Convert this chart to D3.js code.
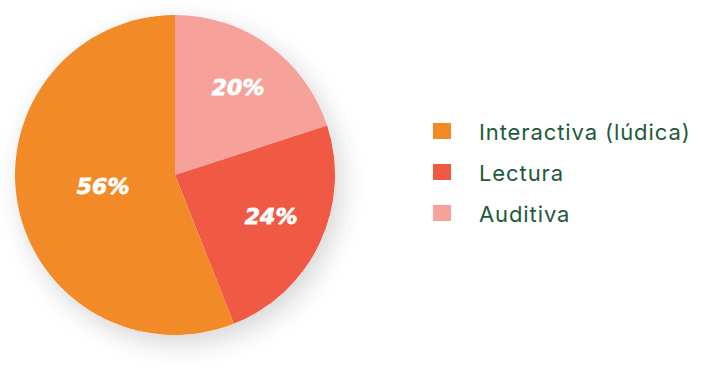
<!DOCTYPE html>
<html>
<head>
<meta charset="utf-8">
<script src="https://cdn.jsdelivr.net/npm/d3@7/dist/d3.min.js"></script>
<style>
  html, body { margin: 0; padding: 0; background: #ffffff; }
  svg { display: block; }
</style>
</head>
<body>
<svg id="chart" width="702" height="375"></svg>
<script>
// Preferred learning styles (share of respondents)
const categories = ["Auditiva", "Lectura", "Interactiva (lúdica)"];
const values = [20, 24, 56];
const valueLabels = ["20%", "24%", "56%"];
const legendOrder = ["Interactiva (lúdica)", "Lectura", "Auditiva"];
const colors = ["#F6A19A", "#F05A45", "#F28A27"];

const svg = d3.select("#chart");
const cx = 175, cy = 175, radius = 160;

const color = d3.scaleOrdinal().domain(categories).range(colors);

// soft shadow behind the pie
const defs = svg.append("defs");
const shadow = defs.append("filter")
  .attr("id", "pieShadow")
  .attr("x", "-30%").attr("y", "-30%")
  .attr("width", "160%").attr("height", "160%");
shadow.append("feDropShadow")
  .attr("dx", 6).attr("dy", 9)
  .attr("stdDeviation", 13)
  .attr("flood-color", "#000")
  .attr("flood-opacity", 0.16);

const data = categories.map((c, i) => ({ category: c, value: values[i], label: valueLabels[i] }));

const pie = d3.pie().sort(null).value(d => d.value);
const arcs = pie(data);

const arc = d3.arc().innerRadius(0).outerRadius(radius);

const g = svg.append("g").attr("transform", `translate(${cx},${cy})`);

g.append("circle")
  .attr("r", radius)
  .attr("fill", "#fff")
  .attr("filter", "url(#pieShadow)");

g.selectAll("path.slice")
  .data(arcs)
  .join("path")
  .attr("class", "slice")
  .attr("d", arc)
  .attr("fill", d => color(d.data.category));

// large slices get their label closer to the centre
const labelArc = d => {
  const big = (d.endAngle - d.startAngle) > Math.PI;
  const r = big ? radius * 0.47 : radius * 0.65;
  return d3.arc().innerRadius(r).outerRadius(r).centroid(d);
};

g.selectAll("text.value")
  .data(arcs)
  .join("text")
  .attr("class", "value")
  .attr("transform", d => `translate(${labelArc(d)})`)
  .attr("dx", 2)
  .attr("dy", -3)
  .attr("text-anchor", "middle")
  .attr("dominant-baseline", "central")
  .attr("fill", "#ffffff")
  .attr("stroke", "#ffffff")
  .attr("stroke-width", 0.8)
  .attr("stroke-linejoin", "round")
  .style("font-family", "'DejaVu Sans', sans-serif")
  .style("font-weight", 700)
  .style("font-style", "italic")
  .style("font-size", "22px")
  .text(d => d.data.label);

// legend
const legendY = d3.scalePoint().domain(legendOrder).range([131, 213]);
const legend = svg.append("g");
const item = legend.selectAll("g.item")
  .data(legendOrder)
  .join("g")
  .attr("class", "item")
  .attr("transform", d => `translate(433,${legendY(d)})`);

item.append("rect")
  .attr("x", 0).attr("y", -8)
  .attr("width", 18).attr("height", 16)
  .attr("fill", d => color(d));

item.append("text")
  .attr("x", 46).attr("y", 1)
  .attr("dominant-baseline", "central")
  .attr("fill", "#1E5A3A")
  .style("font-family", "Inter, Roboto, sans-serif")
  .style("font-size", "22px")
  .style("letter-spacing", "0.9px")
  .text(d => d);
</script>
</body>
</html>
